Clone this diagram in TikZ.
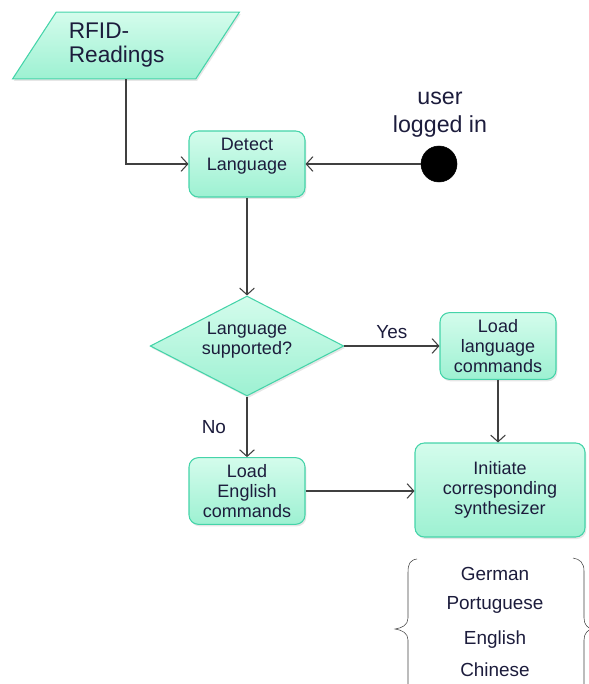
\documentclass[tikz,border=0pt]{standalone}
\usepackage{tikz}
\usepackage{fontspec}
\setmainfont{Liberation Sans}
\usetikzlibrary{shapes.geometric,arrows.meta,shadows}

\definecolor{mintline}{HTML}{45D4A9}
\definecolor{minttop}{HTML}{D4FCEC}
\definecolor{mintbot}{HTML}{9DF1D2}
\definecolor{inkline}{HTML}{404040}
\definecolor{inktext}{HTML}{1C1C3C}

\begin{document}
\begin{tikzpicture}[x=0.75pt,y=-0.75pt,
	box/.style={draw=mintline,thick,rounded corners=7pt,top color=minttop,bottom color=mintbot,
		drop shadow={opacity=0.2,shadow xshift=1pt,shadow yshift=-1.5pt},
		align=center,text=inktext,inner sep=0pt,font=\fontsize{13.5}{15}\selectfont},
	decide/.style={box,diamond,aspect=2.2,rounded corners=0pt,minimum width=141.75pt,minimum height=75pt},
	inbox/.style={box,trapezium,rounded corners=0pt,trapezium left angle=64,trapezium right angle=116,
		trapezium stretches=true,minimum width=171pt,minimum height=50pt,font=\fontsize{17}{18.5}\selectfont},
	flow/.style={draw=inkline,thick,-{Straight Barb[length=5pt,width=11pt]}},
	say/.style={text=inktext,align=center,font=\fontsize{14.2}{16}\selectfont}
	]
		\useasboundingbox (0,0) rectangle (588,684);

		\node[inbox] (rfid) at (126,45.5) {\hspace*{-14pt}\begin{tabular}{@{}l@{}}RFID-\\Readings\end{tabular}};
		\node[box,minimum width=87pt,minimum height=49.5pt] (detect) at (247,164) {Detect\\Language\\\mbox{}};
		\node[draw,fill=black,circle,minimum size=27pt,inner sep=0pt] (login) at (439,164) {};
		\node[say,font=\fontsize{17.4}{21}\selectfont] (loginlabel) at (440,115) {user\\logged in};

		\node[decide] (ask) at (247,346) {Language\\supported?\\[-4pt]\mbox{}};
		\node[box,minimum width=87pt,minimum height=50pt] (loadlang) at (498,346) {Load\\language\\commands};
		\node[box,minimum width=87pt,minimum height=50pt] (loadeng) at (247,491) {Load\\English\\commands};
		\node[box,minimum width=127.5pt,minimum height=70.5pt] (synth) at (500,490) {Initiate\\corresponding\\synthesizer};

		\draw[flow] (rfid.south) |- (detect.west);
		\draw[flow] (login.west) -- (detect.east);
		\draw[flow] (detect.south) -- (ask.north);
		\draw[flow] (ask.east) -- (loadlang.west) node[say,midway,above=2pt] (yes) {Yes};
		\draw[flow] (ask.south) -- (loadeng.north) node[say,midway,left=12pt] (no) {No};
		\draw[flow] (loadlang.south) -- (loadlang.south |- synth.north);
		\draw[flow] (loadeng.east) -- (loadeng.east -| synth.west);

		\foreach \lang/\y in {German/574,Portuguese/605,English/640,Chinese/670}
		{
			\node[say] (\lang) at (495,\y) {\lang};
		}

		% braces round the languages
		\draw[inkline] (417,559) .. controls (410,560) and (408,564) .. (408,572) -- (408,618)
			.. controls (408,625) and (402,628) .. (395,629)
			.. controls (402,630) and (408,633) .. (408,640) -- (408,690);
		\draw[inkline] (573,558) .. controls (580,559) and (584,563) .. (584,571) -- (584,618)
			.. controls (584,625) and (588,628) .. (592,629)
			.. controls (588,630) and (584,633) .. (584,640) -- (584,690);
\end{tikzpicture}
\end{document}
